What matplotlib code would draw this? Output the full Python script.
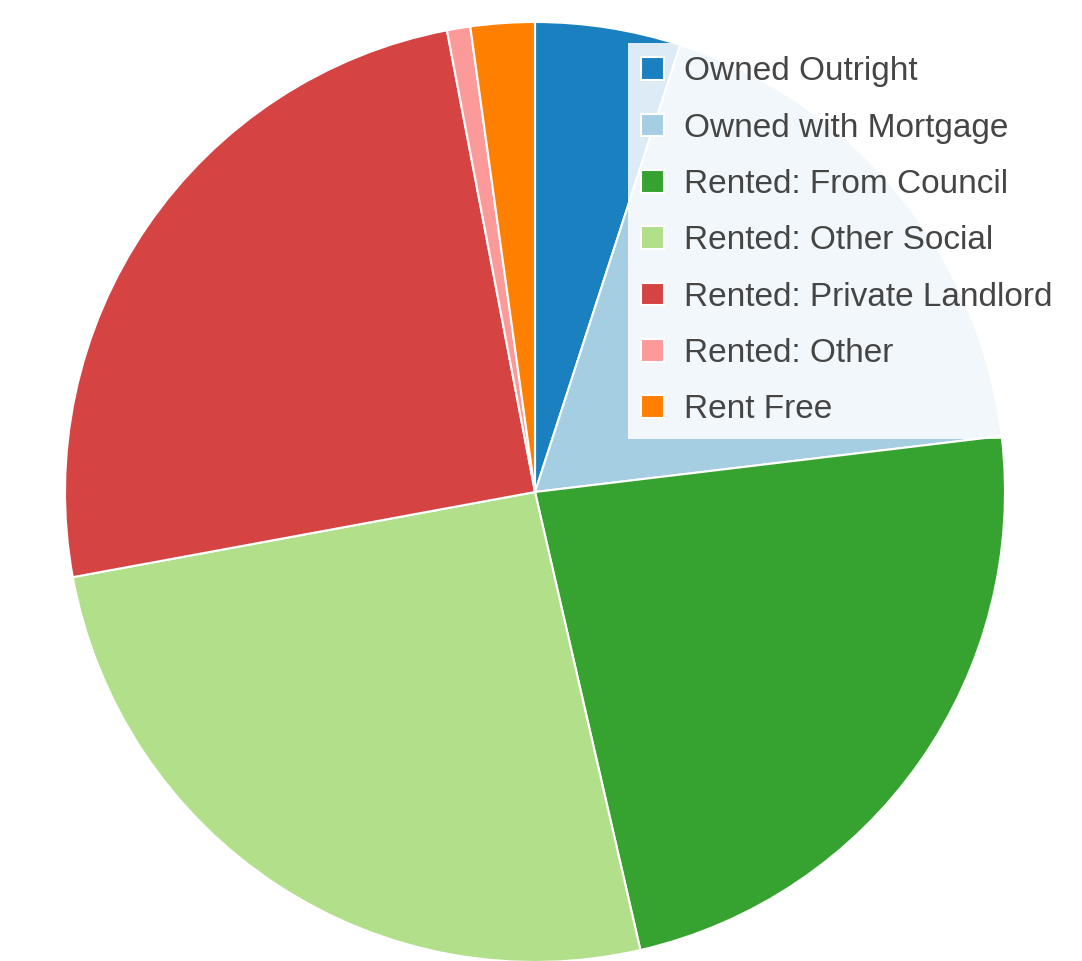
import matplotlib.pyplot as plt

labels = ["Owned Outright", "Owned with Mortgage", "Rented: From Council",
          "Rented: Other Social", "Rented: Private Landlord", "Rented: Other",
          "Rent Free"]
shares = [5.0, 18.1, 23.3, 25.7, 24.9, 0.8, 2.2]
colors = ["#1a80c0", "#a6cee3", "#36a22f", "#b2df8a", "#d64343", "#fb9a99", "#ff7f00"]

W, H = 1082, 961
cx, cy, R = 535, 492, 470  # pixels, from top-left

fig = plt.figure(figsize=(W / 100, H / 100), dpi=100)
ax = fig.add_axes([0, 0, 1, 1])

ax.pie(shares, colors=colors, startangle=90, counterclock=False,
       wedgeprops=dict(edgecolor="white", linewidth=1.5))

ax.set_xlim(-cx / R, (W - cx) / R)
ax.set_ylim(-(H - cy) / R, cy / R)
ax.set_aspect("auto")
ax.axis("off")

plt.rcParams["font.family"] = ["Liberation Sans", "DejaVu Sans"]
leg = ax.legend(labels, loc="upper left",
                bbox_to_anchor=(628 / W, 1 - 43 / H), bbox_transform=fig.transFigure,
                prop={"family": "Liberation Sans", "size": 24},
                labelcolor="#454545", frameon=True, fancybox=False,
                framealpha=0.85, edgecolor="none", facecolor="white",
                handlelength=0.68, handleheight=0.68, handletextpad=0.6,
                labelspacing=0.76, borderpad=0.4, borderaxespad=0)

fig.savefig("out.png", dpi=100)
